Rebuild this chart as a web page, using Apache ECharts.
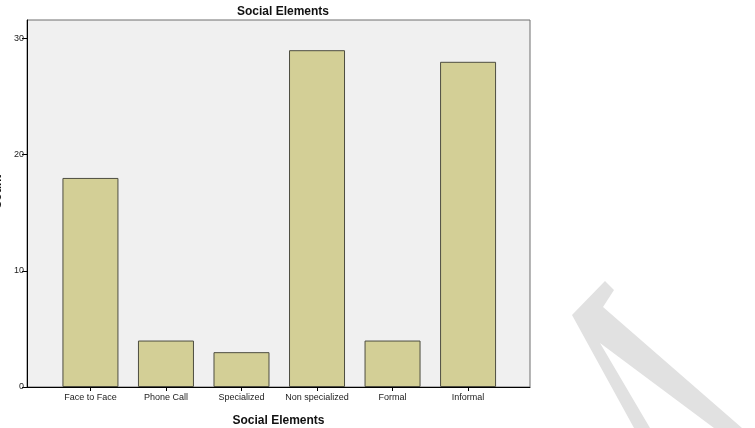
<!DOCTYPE html>
<html>
<head>
<meta charset="utf-8">
<style>
  html, body { margin: 0; padding: 0; background: #fff; }
  #chart { width: 755px; height: 428px; }
</style>
<script src="https://cdn.jsdelivr.net/npm/echarts@6/dist/echarts.min.js"></script>
</head>
<body>
<div id="chart"></div>
<script>
  // data
  const categories = ['Face to Face', 'Phone Call', 'Specialized', 'Non specialized', 'Formal', 'Informal'];
  const counts = [18, 4, 3, 29, 4, 28];
  const yTicks = [0, 10, 20, 30];

  const positions = categories.map((c, i) => i + 1);
  const barData = counts.map((v, i) => [positions[i], v]);

  const chart = echarts.init(document.getElementById('chart'));
  chart.setOption({
    animation: false,
    backgroundColor: '#ffffff',
    textStyle: { fontFamily: 'Liberation Sans, Arial, sans-serif' },
    title: {
      text: 'Social Elements',
      left: 278,
      textAlign: 'center',
      top: 1,
      textStyle: { fontSize: 12, fontWeight: 'bold', color: '#111' }
    },
    grid: {
      left: 27, right: 225, top: 20, bottom: 41,
      containLabel: false,
      outerBoundsMode: 'none',
      show: true,
      backgroundColor: '#f0f0f0',
      borderColor: '#6e6e6e',
      borderWidth: 1
    },
    xAxis: {
      type: 'value',
      min: 0.16,
      max: 6.82,
      name: 'Social Elements',
      nameLocation: 'middle',
      nameGap: 28,
      nameTextStyle: { fontSize: 12, fontWeight: 'bold', color: '#111' },
      axisLine: { show: true, lineStyle: { color: '#000', width: 1 } },
      axisTick: { show: true, length: 4, customValues: positions, lineStyle: { color: '#000' } },
      axisLabel: {
        customValues: positions,
        fontSize: 9,
        color: '#222',
        margin: 6,
        formatter: v => categories[Math.round(v) - 1] || ''
      },
      splitLine: { show: false }
    },
    yAxis: {
      type: 'value',
      min: 0,
      max: 31.6,
      interval: 10,
      axisLine: { show: true, lineStyle: { color: '#000', width: 1 } },
      axisTick: { show: true, length: 5, customValues: yTicks, lineStyle: { color: '#000' } },
      axisLabel: { customValues: yTicks, fontSize: 9, color: '#222', margin: 3 },
      splitLine: { show: false }
    },
    series: [{
      type: 'bar',
      data: barData,
      barWidth: 56,
      itemStyle: {
        color: '#d3cf96',
        borderColor: '#4d4d40',
        borderWidth: 1
      }
    }],
    graphic: [{
      // y axis title, mostly cut off at the left edge
      type: 'text',
      x: -2,
      y: 192,
      rotation: Math.PI / 2,
      silent: true,
      style: {
        text: 'Count',
        fontSize: 12,
        fontWeight: 'bold',
        fontFamily: 'Liberation Sans, Arial, sans-serif',
        fill: '#111',
        align: 'center',
        verticalAlign: 'middle'
      }
    }, {
      // faint watermark in the lower right
      type: 'polygon',
      silent: true,
      shape: {
        points: [[572, 315], [605, 281], [614, 290], [603, 307],
                 [742, 428], [714, 428], [600, 343], [650, 428], [634, 428]]
      },
      style: { fill: '#e1e1e1' }
    }]
  });
</script>
</body>
</html>
